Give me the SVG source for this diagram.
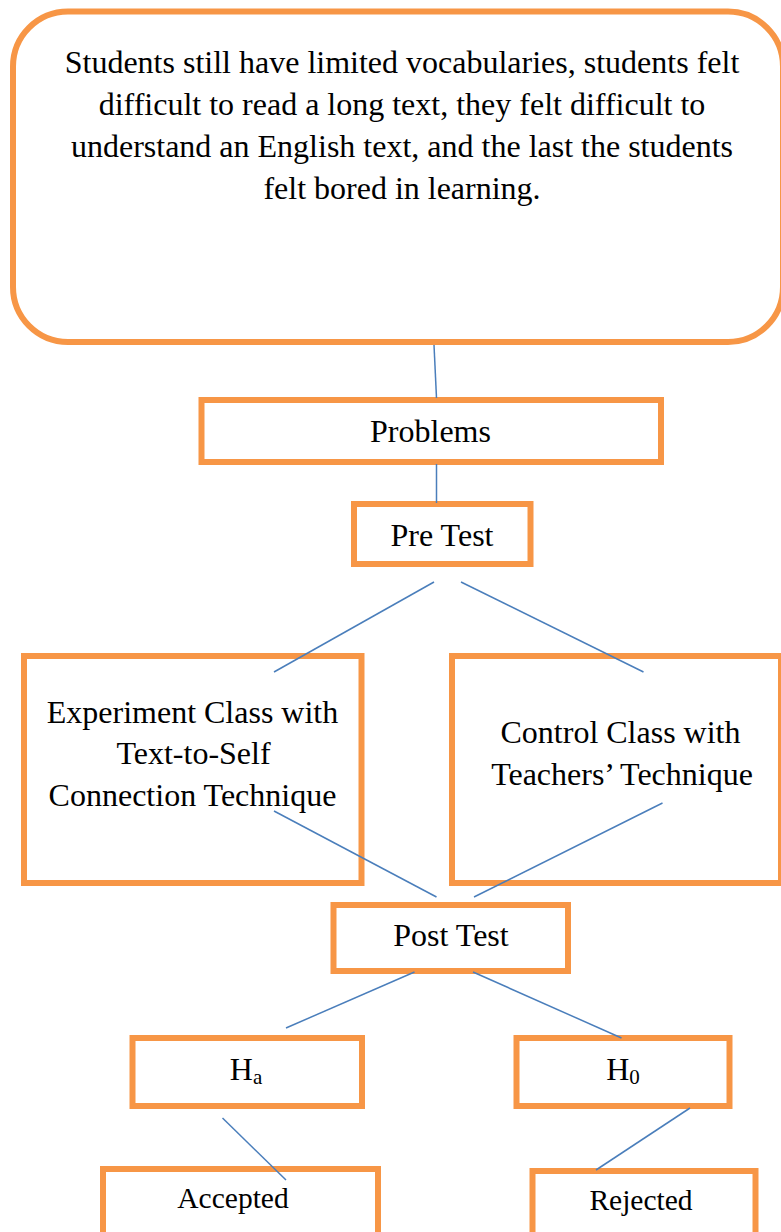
<svg xmlns="http://www.w3.org/2000/svg" width="781" height="1232" viewBox="0 0 781 1232">
<style>
.box{fill:#fff;stroke:#F79646;stroke-width:6}
.t{font-family:"Liberation Serif","Times New Roman",serif;font-size:32px;fill:#000;text-anchor:middle}
.s{font-size:29.5px}
.sub{font-size:21px}
.c line{stroke:#4A7EBB;stroke-width:1.5;fill:none}
</style>
<rect width="781" height="1232" fill="#fff"/>
<g id="n-issues">
<rect class="box" x="13" y="11.5" width="770" height="330.5" rx="55" ry="55"/>
<text class="t" x="402" y="73">Students still have limited vocabularies, students felt</text>
<text class="t" x="402" y="115">difficult to read a long text, they felt difficult to</text>
<text class="t" x="402" y="157">understand an English text, and the last the students</text>
<text class="t" x="402" y="199">felt bored in learning.</text>
</g>
<g id="n-problems">
<rect class="box" x="201.5" y="400" width="459.5" height="62"/>
<text class="t" x="430.5" y="442">Problems</text>
</g>
<g id="n-pretest">
<rect class="box" x="354" y="504" width="176.5" height="60"/>
<text class="t" x="442" y="546">Pre Test</text>
</g>
<g id="n-experiment">
<rect class="box" x="24" y="656" width="337.5" height="227"/>
<text class="t" x="192.5" y="723">Experiment Class with</text>
<text class="t" x="193.5" y="764">Text-to-Self</text>
<text class="t" x="192.5" y="806">Connection Technique</text>
</g>
<g id="n-control">
<rect class="box" x="452" y="656" width="329" height="227"/>
<text class="t" x="620.5" y="743">Control Class with</text>
<text class="t" x="622" y="785">Teachers’ Technique</text>
</g>
<g id="n-posttest">
<rect class="box" x="333.5" y="905" width="234.5" height="66"/>
<text class="t" x="451" y="946">Post Test</text>
</g>
<g id="n-ha">
<rect class="box" x="132.5" y="1038" width="229.5" height="68"/>
<text class="t" x="246" y="1080">H<tspan class="sub" dy="4">a</tspan></text>
</g>
<g id="n-h0">
<rect class="box" x="516.5" y="1038" width="213" height="68"/>
<text class="t" x="623" y="1080">H<tspan class="sub" dy="4">0</tspan></text>
</g>
<g id="n-accepted">
<rect class="box" x="103" y="1169" width="275" height="90"/>
<text class="t s" x="233" y="1208">Accepted</text>
</g>
<g id="n-rejected">
<rect class="box" x="532.5" y="1171" width="223" height="90"/>
<text class="t s" x="641" y="1210">Rejected</text>
</g>
<g id="connectors" class="c">
<line x1="434" y1="345" x2="436.5" y2="398"/>
<line x1="436.5" y1="464" x2="436.5" y2="503"/>
<line x1="434" y1="582" x2="274" y2="672"/>
<line x1="461" y1="582" x2="643.5" y2="672"/>
<line x1="274" y1="811" x2="436.5" y2="897"/>
<line x1="662.5" y1="803" x2="474" y2="897"/>
<line x1="414.5" y1="972" x2="286" y2="1028"/>
<line x1="473" y1="972" x2="621.5" y2="1038"/>
<line x1="222.5" y1="1118" x2="286" y2="1180"/>
<line x1="690" y1="1108" x2="596" y2="1170"/>
</g>
</svg>
